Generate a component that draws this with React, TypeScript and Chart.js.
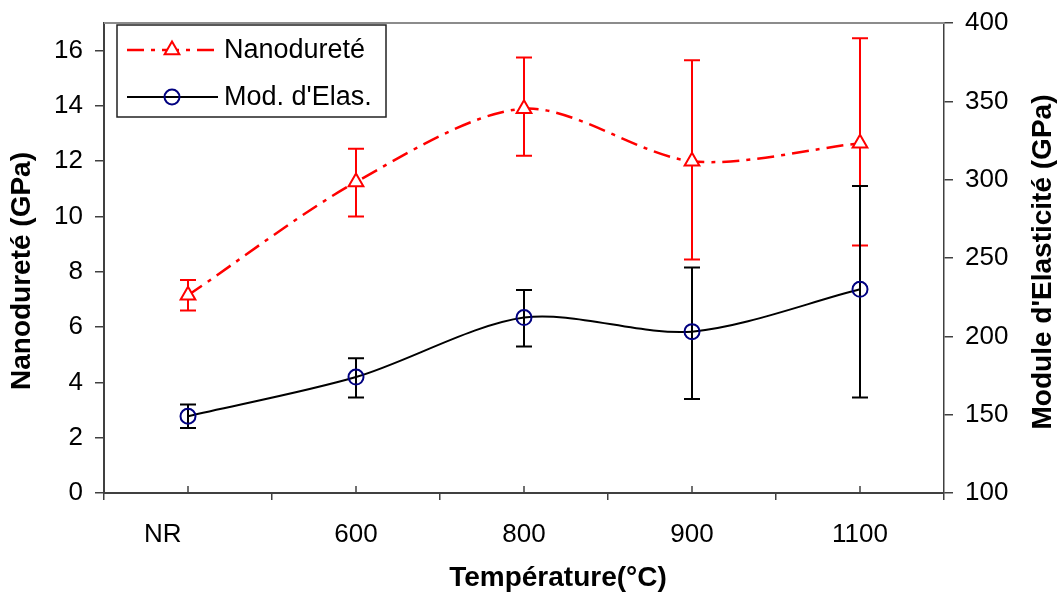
import React, { useEffect, useRef } from 'react';
import { Chart, registerables } from 'chart.js';

Chart.register(...registerables);

// ---- Data ----
const categories = ['NR', '600', '800', '900', '1100'];
const nanoValues = [7.15, 11.25, 13.9, 12.0, 12.65];
const nanoLow = [6.6, 10.0, 12.2, 8.45, 8.95];
const nanoHigh = [7.7, 12.45, 15.75, 15.65, 16.45];
const modValues = [149, 174, 212, 203, 230];
const modLow = [141.5, 161, 193.5, 160, 161];
const modHigh = [156.5, 186, 229.5, 244, 296];
const leftTicks = [0, 2, 4, 6, 8, 10, 12, 14, 16];
const rightTicks = [100, 150, 200, 250, 300, 350, 400];
const seriesNames = ['Nanodureté', "Mod. d'Elas."];
const xTitle = 'Température(°C)';
const leftTitle = 'Nanodureté (GPa)';
const rightTitle = "Module d'Elasticité (GPa)";

const FONT = "'Liberation Sans', Arial, sans-serif";
const RED = '#ff0000';
const NAVY = '#000080';
const AXIS = '#404040';

const errorSets = [
  { low: nanoLow, high: nanoHigh, color: RED, axis: 'y' },
  { low: modLow, high: modHigh, color: '#000000', axis: 'y1' },
];

const errorBarPlugin = {
  id: 'errorBars',
  beforeDatasetsDraw(chart: any) {
    const ctx = chart.ctx;
    const xs = chart.scales.x;
    ctx.save();
    errorSets.forEach((set) => {
      const ys = chart.scales[set.axis];
      ctx.strokeStyle = set.color;
      ctx.lineWidth = 2;
      set.low.forEach((lo, i) => {
        const x = xs.getPixelForValue(i);
        const yl = ys.getPixelForValue(lo);
        const yh = ys.getPixelForValue(set.high[i]);
        ctx.beginPath();
        ctx.moveTo(x, yl);
        ctx.lineTo(x, yh);
        ctx.moveTo(x - 8, yl);
        ctx.lineTo(x + 8, yl);
        ctx.moveTo(x - 8, yh);
        ctx.lineTo(x + 8, yh);
        ctx.stroke();
      });
    });
    ctx.restore();
  },
};

const decorPlugin = {
  id: 'decor',
  afterDraw(chart: any) {
    const ctx = chart.ctx;
    const a = chart.chartArea;
    const xs = chart.scales.x;
    ctx.save();
    // top border of plot area
    ctx.strokeStyle = '#8c8c8c';
    ctx.lineWidth = 2;
    ctx.beginPath();
    ctx.moveTo(a.left, a.top);
    ctx.lineTo(a.right, a.top);
    ctx.stroke();
    // inward ticks at categories
    ctx.strokeStyle = AXIS;
    ctx.lineWidth = 1.5;
    categories.forEach((_, i) => {
      const x = xs.getPixelForValue(i);
      ctx.beginPath();
      ctx.moveTo(x, a.bottom);
      ctx.lineTo(x, a.bottom - 7);
      ctx.stroke();
    });
    // titles
    ctx.fillStyle = '#000';
    ctx.font = `bold 28px ${FONT}`;
    ctx.textAlign = 'center';
    ctx.textBaseline = 'middle';
    ctx.fillText(xTitle, a.left + (a.right - a.left) / 2 + 34, 578);
    ctx.save();
    ctx.translate(22, 271);
    ctx.rotate(-Math.PI / 2);
    ctx.fillText(leftTitle, 0, 0);
    ctx.restore();
    ctx.save();
    ctx.translate(1043, 262);
    ctx.rotate(-Math.PI / 2);
    ctx.fillText(rightTitle, 0, 0);
    ctx.restore();

    // legend
    const lx = a.left + 13;
    const ly = a.top + 2;
    const lw = 269;
    const lh = 92;
    ctx.fillStyle = '#fff';
    ctx.fillRect(lx, ly, lw, lh);
    ctx.strokeStyle = '#222';
    ctx.lineWidth = 1.5;
    ctx.strokeRect(lx, ly, lw, lh);
    const rows = [ly + 25, ly + 72];
    // row 1: red dash-dot + triangle
    ctx.strokeStyle = RED;
    ctx.lineWidth = 2.5;
    ctx.setLineDash([17, 7, 4, 7]);
    ctx.beginPath();
    ctx.moveTo(lx + 10, rows[0]);
    ctx.lineTo(lx + 101, rows[0]);
    ctx.stroke();
    ctx.setLineDash([]);
    const cx = lx + 55;
    const r = 8.5;
    ctx.beginPath();
    ctx.moveTo(cx, rows[0] - r);
    ctx.lineTo(cx - 0.866 * r, rows[0] + 0.5 * r);
    ctx.lineTo(cx + 0.866 * r, rows[0] + 0.5 * r);
    ctx.closePath();
    ctx.fillStyle = '#fff';
    ctx.fill();
    ctx.lineWidth = 2;
    ctx.stroke();
    // row 2: black line + circle
    ctx.strokeStyle = '#000';
    ctx.lineWidth = 2;
    ctx.beginPath();
    ctx.moveTo(lx + 10, rows[1]);
    ctx.lineTo(lx + 101, rows[1]);
    ctx.stroke();
    ctx.strokeStyle = NAVY;
    ctx.beginPath();
    ctx.arc(cx, rows[1], 7.5, 0, Math.PI * 2);
    ctx.stroke();
    // text
    ctx.fillStyle = '#000';
    ctx.font = `27px ${FONT}`;
    ctx.textAlign = 'left';
    ctx.textBaseline = 'middle';
    ctx.fillText(seriesNames[0], lx + 107, rows[0] + 1);
    ctx.fillText(seriesNames[1], lx + 107, rows[1] + 1);
    ctx.restore();
  },
};

const fitVertical = (w: number) => (s: any) => {
  s.width = w;
  s.paddingTop = 0;
  s.paddingBottom = 0;
};

export default function App() {
  const ref = useRef<HTMLCanvasElement | null>(null);
  useEffect(() => {
    if (!ref.current) return;
    const chart = new Chart(ref.current, {
      type: 'line',
      data: {
        labels: categories,
        datasets: [
          {
            label: seriesNames[0],
            data: nanoValues,
            yAxisID: 'y',
            borderColor: RED,
            borderWidth: 2.5,
            borderDash: [17, 7, 4, 7],
            tension: 0.3,
            pointStyle: 'triangle',
            pointRadius: 8.5,
            pointBackgroundColor: '#ffffff',
            pointBorderColor: RED,
            pointBorderWidth: 2,
            fill: false,
          },
          {
            label: seriesNames[1],
            data: modValues,
            yAxisID: 'y1',
            borderColor: '#000000',
            borderWidth: 2,
            tension: 0.3,
            pointStyle: 'circle',
            pointRadius: 7.5,
            pointBackgroundColor: 'rgba(0,0,0,0)',
            pointBorderColor: NAVY,
            pointBorderWidth: 2,
            fill: false,
          },
        ],
      },
      options: {
        animation: false,
        responsive: true,
        maintainAspectRatio: false,
        layout: { padding: { top: 23, left: 0, right: 0, bottom: 0 } },
        plugins: {
          legend: { display: false },
          tooltip: { enabled: false },
          title: { display: false },
        },
        scales: {
          x: {
            type: 'category',
            offset: true,
            grid: {
              display: true,
              offset: true,
              drawOnChartArea: false,
              drawTicks: true,
              tickLength: 7,
              color: AXIS,
              lineWidth: 1.5,
            },
            border: { display: true, color: AXIS, width: 2 },
            ticks: {
              autoSkip: false,
              maxRotation: 0,
              color: '#000',
              padding: 19,
              font: { family: FONT, size: 26 },
              callback: (_v: any, i: number) =>
                categories[i] === 'NR' ? categories[i] + '       ' : categories[i],
            },
            afterFit: (s: any) => {
              s.height = 101;
              s.paddingLeft = 0;
              s.paddingRight = 0;
            },
          },
          y: {
            type: 'linear',
            position: 'left',
            min: 0,
            max: 17,
            afterBuildTicks: (s: any) => {
              s.ticks = leftTicks.map((v) => ({ value: v }));
            },
            grid: {
              drawOnChartArea: false,
              drawTicks: true,
              tickLength: 9,
              color: AXIS,
              lineWidth: 1.5,
            },
            border: { display: true, color: AXIS, width: 2 },
            ticks: {
              color: '#000',
              padding: 12,
              font: { family: FONT, size: 26 },
            },
            afterFit: fitVertical(104),
          },
          y1: {
            type: 'linear',
            position: 'right',
            min: 100,
            max: 400,
            afterBuildTicks: (s: any) => {
              s.ticks = rightTicks.map((v) => ({ value: v }));
            },
            grid: {
              drawOnChartArea: false,
              drawTicks: true,
              tickLength: 9,
              color: AXIS,
              lineWidth: 1.5,
            },
            border: { display: true, color: AXIS, width: 1.5 },
            ticks: {
              color: '#000',
              padding: 12,
              font: { family: FONT, size: 26 },
            },
            afterFit: fitVertical(116),
          },
        },
      } as any,
      plugins: [errorBarPlugin, decorPlugin],
    });
    return () => chart.destroy();
  }, []);

  return (
    <div style={{ position: 'absolute', left: 0, top: 0, width: 1060, height: 594, background: '#fff' }}>
      <canvas ref={ref} />
    </div>
  );
}
